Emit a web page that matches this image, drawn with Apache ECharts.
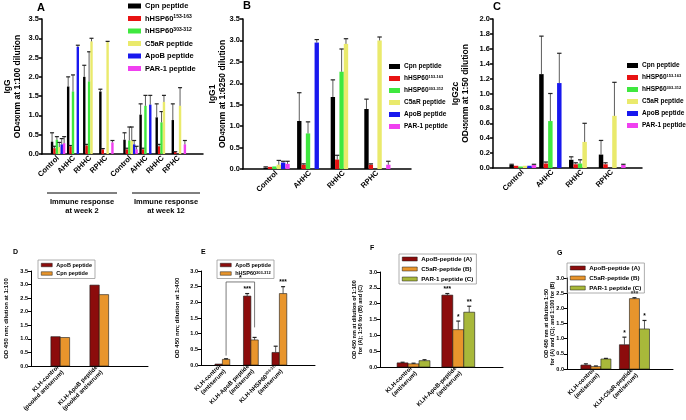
<!DOCTYPE html>
<html lang="en">
<head>
<meta charset="UTF-8" />
<title>Antibody responses to peptides</title>
<style>
  html, body { margin: 0; padding: 0; background: #fff; }
  #chart { width: 686px; height: 420px; }
</style>
</head>
<body>
<div id="chart"></div>
<script src="https://cdn.jsdelivr.net/npm/echarts@6/dist/echarts.min.js"></script>
<script type="text/javascript">
// ---------- data ----------
var peptides = ['Cpn peptide', 'hHSP60 153-163', 'hHSP60 303-312', 'C5aR peptide', 'ApoB peptide', 'PAR-1 peptide'];
var peptideColors = ['#000000', '#e81212', '#3fe83f', '#eaea6c', '#1818ee', '#f040f0'];

// panel A (IgG, week 2 then week 12)
var groupsA = ['Control', 'AHHC', 'RHHC', 'RPHC', 'Control', 'AHHC', 'RHHC', 'RPHC'];
var posA = [1, 2, 3, 4, 5.5, 6.5, 7.5, 8.5];
var igG = [
  [0.32, 1.75, 2.0, 1.62, 0.37, 1.02, 0.95, 0.88],
  [0.15, 0.2, 0.22, 0.12, 0.12, 0.12, 0.2, 0.05],
  [0.37, 1.62, 1.88, 0, 0.35, 1.25, 0.82, 0],
  [0.18, 0, 2.92, 2.9, 0.35, 0, 1.35, 1.25],
  [0.25, 2.78, 0, 0, 0.25, 1.28, 0, 0],
  [0.28, 0, 0, 0.3, 0.12, 0, 0, 0.25]
];
var igGErr = [
  [0.55, 2.0, 2.3, 1.68, 0.55, 1.3, 1.3, 1.3],
  [0.2, 0.22, 0.25, 0.14, 0.15, 0.15, 0.25, 0.06],
  [0.45, 2.05, 2.65, null, 0.7, 1.52, 1.1, null],
  [0.3, null, 3.0, 2.92, 0.7, null, 1.52, 1.72],
  [0.4, 2.82, null, null, 0.35, 1.52, null, null],
  [0.45, null, null, 0.35, 0.2, null, null, 0.35]
];

// panels B and C (week 2)
var groupsBC = ['Control', 'AHHC', 'RHHC', 'RPHC'];
var posBC = [0, 1, 2, 3];
var igG1 = [
  [0.03, 1.12, 1.68, 1.4],
  [0.05, 0.1, 0.22, 0.1],
  [0.06, 0.83, 2.27, 0],
  [0.1, 0, 2.92, 3.0],
  [0.15, 2.95, 0, 0],
  [0.12, 0, 0, 0.1]
];
var igG1Err = [
  [0.05, 1.78, 2.08, 1.63],
  [null, 0.12, 0.32, 0.12],
  [null, 1.1, 2.8, null],
  [0.2, null, 3.04, 3.08],
  [0.18, 3.02, null, null],
  [0.18, null, null, 0.18]
];
var igG2c = [
  [0.04, 1.26, 0.11, 0.18],
  [0.03, 0.06, 0.05, 0.05],
  [0.02, 0.63, 0.06, 0],
  [0.03, 0, 0.35, 0.7],
  [0.03, 1.14, 0, 0],
  [0.04, 0, 0, 0.04]
];
var igG2cErr = [
  [0.05, 1.77, 0.15, 0.37],
  [null, 0.08, 0.07, 0.07],
  [null, 1.0, 0.11, null],
  [null, null, 0.6, 1.15],
  [null, 1.54, null, null],
  [0.05, null, null, 0.05]
];

// panels D-G (KLH immunisation)
var darkRed = '#8c0c0c', orange = '#e8952c', olive = '#a8b83a';
var groupsD = ['KLH-control\n(pooled antiserum)', 'KLH-ApoB peptide\n(pooled antiserum)'];
var posD = [0, 1];
var dApoB = [1.08, 2.98];
var dCpn = [1.05, 2.63];

var groupsE = ['KLH-control\n(antiserum)', 'KLH-ApoB peptide\n(antiserum)', 'KLH-hHSP60{p|303-312}\n(antiserum)'];
var posE = [0, 1, 2];
var eApoB = [0.03, 2.2, 0.4];
var eApoBErr = [null, 2.28, 0.6];
var eApoBStars = ['', '***', ''];
var eHsp = [0.18, 0.8, 2.28];
var eHspErr = [0.2, 0.88, 2.5];
var eHspStars = ['', '', '***'];
var bracketE = [[0, 1, 0.3, 1.2, 2.65]]; // from group, to group, left foot, right foot, top

var klhNames = ['ApoB-peptide (A)', 'C5aR-peptide (B)', 'PAR-1 peptide (C)'];
var groupsF = ['KLH-control\n(antiserum)', 'KLH-ApoB-peptide\n(antiserum)'];
var posF = [0, 1];
var fVals = [[0.13, 2.27], [0.1, 1.18], [0.2, 1.73]];
var fErr = [[0.15, 2.32], [0.12, 1.45], [0.23, 1.92]];
var fStars = [['', '***'], ['', '*'], ['', '**']];

var groupsG = ['KLH-control\n(antiserum)', 'KLH-C5aR-peptide\n(antiserum)'];
var posG = [0, 1];
var gVals = [[0.13, 0.8], [0.08, 2.32], [0.33, 1.32]];
var gErr = [[0.17, 1.05], [0.1, 2.35], [0.35, 1.6]];
var gStars = [['', '*'], ['', '***'], ['', '*']];

// ---------- helpers ----------
var FONT = '"Liberation Sans", Arial, sans-serif';

function barRenderer(slot, count, width, stars, outline, cap) {
  return function (params, api) {
    var x = api.value(0) + (slot - (count - 1) / 2) * width;
    var v = api.value(1), e = api.value(2);
    var base = api.coord([x - width / 2, 0]);
    var top = api.coord([x + width / 2, v]);
    var kids = [];
    if (v > 0) {
      kids.push({
        type: 'rect',
        shape: { x: base[0], y: top[1], width: top[0] - base[0], height: base[1] - top[1] },
        style: { fill: api.visual('color'), stroke: outline ? '#1a1a1a' : null, lineWidth: outline ? 0.6 : 0 }
      });
    }
    var textY = top[1];
    if (e > v) {
      var c = api.coord([x, e]);
      kids.push({ type: 'line', shape: { x1: c[0], y1: top[1], x2: c[0], y2: c[1] }, style: { stroke: '#333', lineWidth: 0.8 } });
      kids.push({ type: 'line', shape: { x1: c[0] - cap, y1: c[1], x2: c[0] + cap, y2: c[1] }, style: { stroke: '#222', lineWidth: 1.2 } });
      textY = c[1];
    }
    if (stars && stars[params.dataIndex]) {
      kids.push({
        type: 'text',
        style: { text: stars[params.dataIndex], x: (base[0] + top[0]) / 2, y: textY - 0.5, align: 'center', verticalAlign: 'bottom', fontSize: 6.5, fontWeight: 'bold', fontFamily: FONT, fill: '#000' }
      });
    }
    return { type: 'group', children: kids };
  };
}

function rows(pos, vals, errs) {
  return pos.map(function (p, i) {
    return [p, vals[i], errs && errs[i] != null ? errs[i] : 0];
  });
}

function barSeries(name, color, gi, pos, vals, errs, slot, count, width, stars, outline, cap) {
  return {
    type: 'custom', name: name, xAxisIndex: gi, yAxisIndex: gi,
    itemStyle: { color: color, borderColor: outline ? '#1a1a1a' : color, borderWidth: outline ? 0.6 : 0 },
    renderItem: barRenderer(slot, count, width, stars, outline, cap),
    data: rows(pos, vals, errs)
  };
}

function catLabels(pos, names) {
  return function (v) {
    for (var i = 0; i < pos.length; i++) {
      if (Math.abs(pos[i] - v) < 1e-6) return names[i];
    }
    return '';
  };
}

function xAx(gi, min, max, interval, pos, names, fs, lw) {
  return {
    type: 'value', gridIndex: gi, min: min, max: max, interval: interval,
    axisLine: { onZero: false, lineStyle: { color: '#000', width: lw } },
    axisTick: { show: false }, splitLine: { show: false },
    axisLabel: {
      formatter: catLabels(pos, names), rotate: 45, margin: 3, color: '#000',
      fontSize: fs, fontWeight: 'bold', fontFamily: FONT, lineHeight: fs + 1,
      rich: { p: { fontSize: Math.max(4, fs - 2), verticalAlign: 'top', fontWeight: 'bold', fontFamily: FONT } }
    }
  };
}

function yAx(gi, max, interval, name, gap, fs, nfs, lw) {
  return {
    type: 'value', gridIndex: gi, min: 0, max: max, interval: interval,
    axisLine: { show: true, onZero: false, lineStyle: { color: '#000', width: lw } },
    axisTick: { show: true, length: 3, lineStyle: { color: '#000', width: lw } },
    splitLine: { show: false },
    axisLabel: { color: '#000', fontSize: fs, fontWeight: 'bold', fontFamily: FONT, margin: 3,
      formatter: function (v) { return v.toFixed(1); } },
    name: name, nameLocation: 'middle', nameRotate: 90, nameGap: gap, nameMoveOverlap: false,
    nameTextStyle: {
      color: '#000', fontSize: nfs, fontWeight: 'bold', fontFamily: FONT, lineHeight: nfs + 1,
      rich: {
        n: { fontSize: nfs, fontWeight: 'bold', fontFamily: FONT, color: '#000' },
        s: { fontSize: nfs - 2, fontWeight: 'bold', fontFamily: FONT, color: '#000', verticalAlign: 'bottom' }
      }
    }
  };
}

function supName(name) {
  return name.replace(/^hHSP60 (.*)$/, 'hHSP60{p|$1}');
}

function legendFor(names, colors, left, top, fs, w, h, gap, boxed) {
  return {
    orient: 'vertical', left: left, top: top, icon: 'rect',
    itemWidth: w, itemHeight: h, itemGap: gap,
    padding: boxed ? [2, 3, 2, 3] : 0,
    borderColor: boxed ? '#999' : 'transparent', borderWidth: boxed ? 0.8 : 0,
    selectedMode: false,
    data: names.map(function (n, i) {
      return { name: n, itemStyle: { color: colors[i], borderColor: boxed ? '#1a1a1a' : colors[i], borderWidth: boxed ? 0.5 : 0 } };
    }),
    formatter: supName,
    textStyle: {
      color: '#000', fontSize: fs, fontWeight: 'bold', fontFamily: FONT, padding: [0, 0, 0, -1],
      rich: { p: { fontSize: Math.max(4, fs - 2.5), verticalAlign: 'top', fontWeight: 'bold', fontFamily: FONT, color: '#000' } }
    }
  };
}

// ---------- layout ----------
var grids = [
  { left: 42, right: 483, top: 19, bottom: 266 },  // A
  { left: 243, right: 275, top: 19, bottom: 251 }, // B
  { left: 493, right: 44, top: 19, bottom: 252 },  // C
  { left: 31, right: 538, top: 271, bottom: 54 },  // D
  { left: 201, right: 371, top: 271, bottom: 55 }, // E
  { left: 380, right: 183, top: 272, bottom: 53 }, // F
  { left: 567, right: 13, top: 278, bottom: 51 }   // G
].map(function (g) { g.outerBoundsMode = 'none'; return g; });

var xAxes = [
  xAx(0, 0, 10, 0.5, posA, groupsA, 7.5, 1.5),
  xAx(1, -1, 4, 1, posBC, groupsBC, 7.5, 1.5),
  xAx(2, -1, 4, 1, posBC, groupsBC, 7.5, 1.5),
  xAx(3, -0.75, 2.25, 0.25, posD, groupsD, 6, 1),
  xAx(4, -0.75, 3.25, 0.25, posE, groupsE, 6, 1),
  xAx(5, -0.75, 2, 0.25, posF, groupsF, 6, 1),
  xAx(6, -0.75, 2, 0.25, posG, groupsG, 6, 1)
];

var yAxes = [
  yAx(0, 3.5, 0.5, '{n|IgG}\n{n|OD}{s|450}{n|nm at 1:100 dilution}', 20, 7.5, 8.5, 1.5),
  yAx(1, 3.5, 0.5, '{n|IgG1}\n{n|OD}{s|450}{n|nm at 1:6250 dilution}', 16, 7.5, 8.5, 1.5),
  yAx(2, 2.0, 0.2, '{n|IgG2c}\n{n|OD}{s|450}{n|nm at 1:50 dilution}', 23, 7.5, 8.5, 1.5),
  yAx(3, 3.5, 0.5, 'OD 450 nm; dilution at 1:100', 21, 5.5, 6, 1),
  yAx(4, 3.0, 0.5, 'OD 450 nm; dilution at 1:400', 20, 5.5, 6, 1),
  yAx(5, 3.0, 0.5, 'OD 450 nm at dilution of 1:100\nfor (A); 1:50 for (B) and (C)', 16, 5.5, 5.5, 1),
  yAx(6, 3.0, 0.5, 'OD 450 nm at dilution 1:50\nfor (A) and (C); and 1:100 for (B)', 11, 5.5, 5.5, 1)
];

var series = [];
peptides.forEach(function (p, i) {
  series.push(barSeries(p, peptideColors[i], 0, posA, igG[i], igGErr[i], i, 6, 0.15, null, false, 2));
  series.push(barSeries(p, peptideColors[i], 1, posBC, igG1[i], igG1Err[i], i, 6, 0.13, null, false, 2.2));
  series.push(barSeries(p, peptideColors[i], 2, posBC, igG2c[i], igG2cErr[i], i, 6, 0.15, null, false, 2.2));
});
series.push(barSeries('ApoB peptide', darkRed, 3, posD, dApoB, null, 0, 2, 0.24, null, true, 2));
series.push(barSeries('Cpn peptide', orange, 3, posD, dCpn, null, 1, 2, 0.24, null, true, 2));
series.push(barSeries('ApoB peptide', darkRed, 4, posE, eApoB, eApoBErr, 0, 2, 0.26, eApoBStars, true, 2));
series.push(barSeries('hHSP60 303-312', orange, 4, posE, eHsp, eHspErr, 1, 2, 0.26, eHspStars, true, 2));
series.push({
  type: 'custom', xAxisIndex: 4, yAxisIndex: 4, silent: true,
  renderItem: function (params, api) {
    var off = 0.5 * 0.26;
    var x0 = api.value(0) + off, x1 = api.value(1) + off;
    var a = api.coord([x0, api.value(2)]), b = api.coord([x0, api.value(4)]);
    var c = api.coord([x1, api.value(4)]), d = api.coord([x1, api.value(3)]);
    return { type: 'group', children: [
      { type: 'polyline', shape: { points: [a, b, c, d] }, style: { stroke: '#444', lineWidth: 0.7, fill: null } },
      { type: 'text', style: { text: '*', x: (b[0] + c[0]) / 2, y: b[1] - 0.5, align: 'center', verticalAlign: 'bottom', fontSize: 7, fontWeight: 'bold', fontFamily: FONT, fill: '#000' } }
    ] };
  },
  data: bracketE
});
klhNames.forEach(function (n, i) {
  var col = [darkRed, orange, olive][i];
  series.push(barSeries(n, col, 5, posF, fVals[i], fErr[i], i, 3, 0.245, fStars[i], true, 2));
  series.push(barSeries(n, col, 6, posG, gVals[i], gErr[i], i, 3, 0.26, gStars[i], true, 2));
});

var legends = [
  legendFor(peptides, peptideColors, 128, 2, 7.5, 13, 5, 4.5, false),
  legendFor(peptides, peptideColors, 389, 63, 6.5, 11, 5, 5, false),
  legendFor(peptides, peptideColors, 627, 62, 6.5, 11, 5, 5, false),
  legendFor(['ApoB peptide', 'Cpn peptide'], [darkRed, orange], 38, 260, 5.5, 11, 3.5, 2.5, true),
  legendFor(['ApoB peptide', 'hHSP60 303-312'], [darkRed, orange], 217, 260, 5.5, 11, 3.5, 2.5, true),
  legendFor(klhNames, [darkRed, orange, olive], 399, 254, 6.2, 15, 4, 4, true),
  legendFor(klhNames, [darkRed, orange, olive], 567, 263, 6.2, 15, 4, 4, true)
];

function letter(t, x, y, size) {
  return { type: 'text', x: x, y: y, style: { text: t, fontSize: size, fontWeight: 'bold', fontFamily: FONT, fill: '#000' } };
}
function groupNote(text, cx, x1, x2) {
  return [
    { type: 'line', shape: { x1: x1, y1: 193, x2: x2, y2: 193 }, style: { stroke: '#000', lineWidth: 1 } },
    { type: 'text', x: cx, y: 197, style: { text: text, align: 'center', fontSize: 7.5, fontWeight: 'bold', fontFamily: FONT, fill: '#000', lineHeight: 9 } }
  ];
}

var graphics = [
  letter('A', 37, 2, 11), letter('B', 243, 0, 11), letter('C', 493, 1, 11),
  letter('D', 13, 249, 7), letter('E', 201, 249, 7), letter('F', 370, 245, 7), letter('G', 557, 250, 7)
].concat(groupNote('Immune response\nat week 2', 82, 47, 117), groupNote('Immune response\nat week 12', 166, 132, 200));

var myChart = echarts.init(document.getElementById('chart'));
var option = {
  animation: false,
  backgroundColor: '#fff',
  grid: grids,
  xAxis: xAxes,
  yAxis: yAxes,
  legend: legends,
  graphic: graphics,
  series: series
};
myChart.setOption(option);
</script>
</body>
</html>
